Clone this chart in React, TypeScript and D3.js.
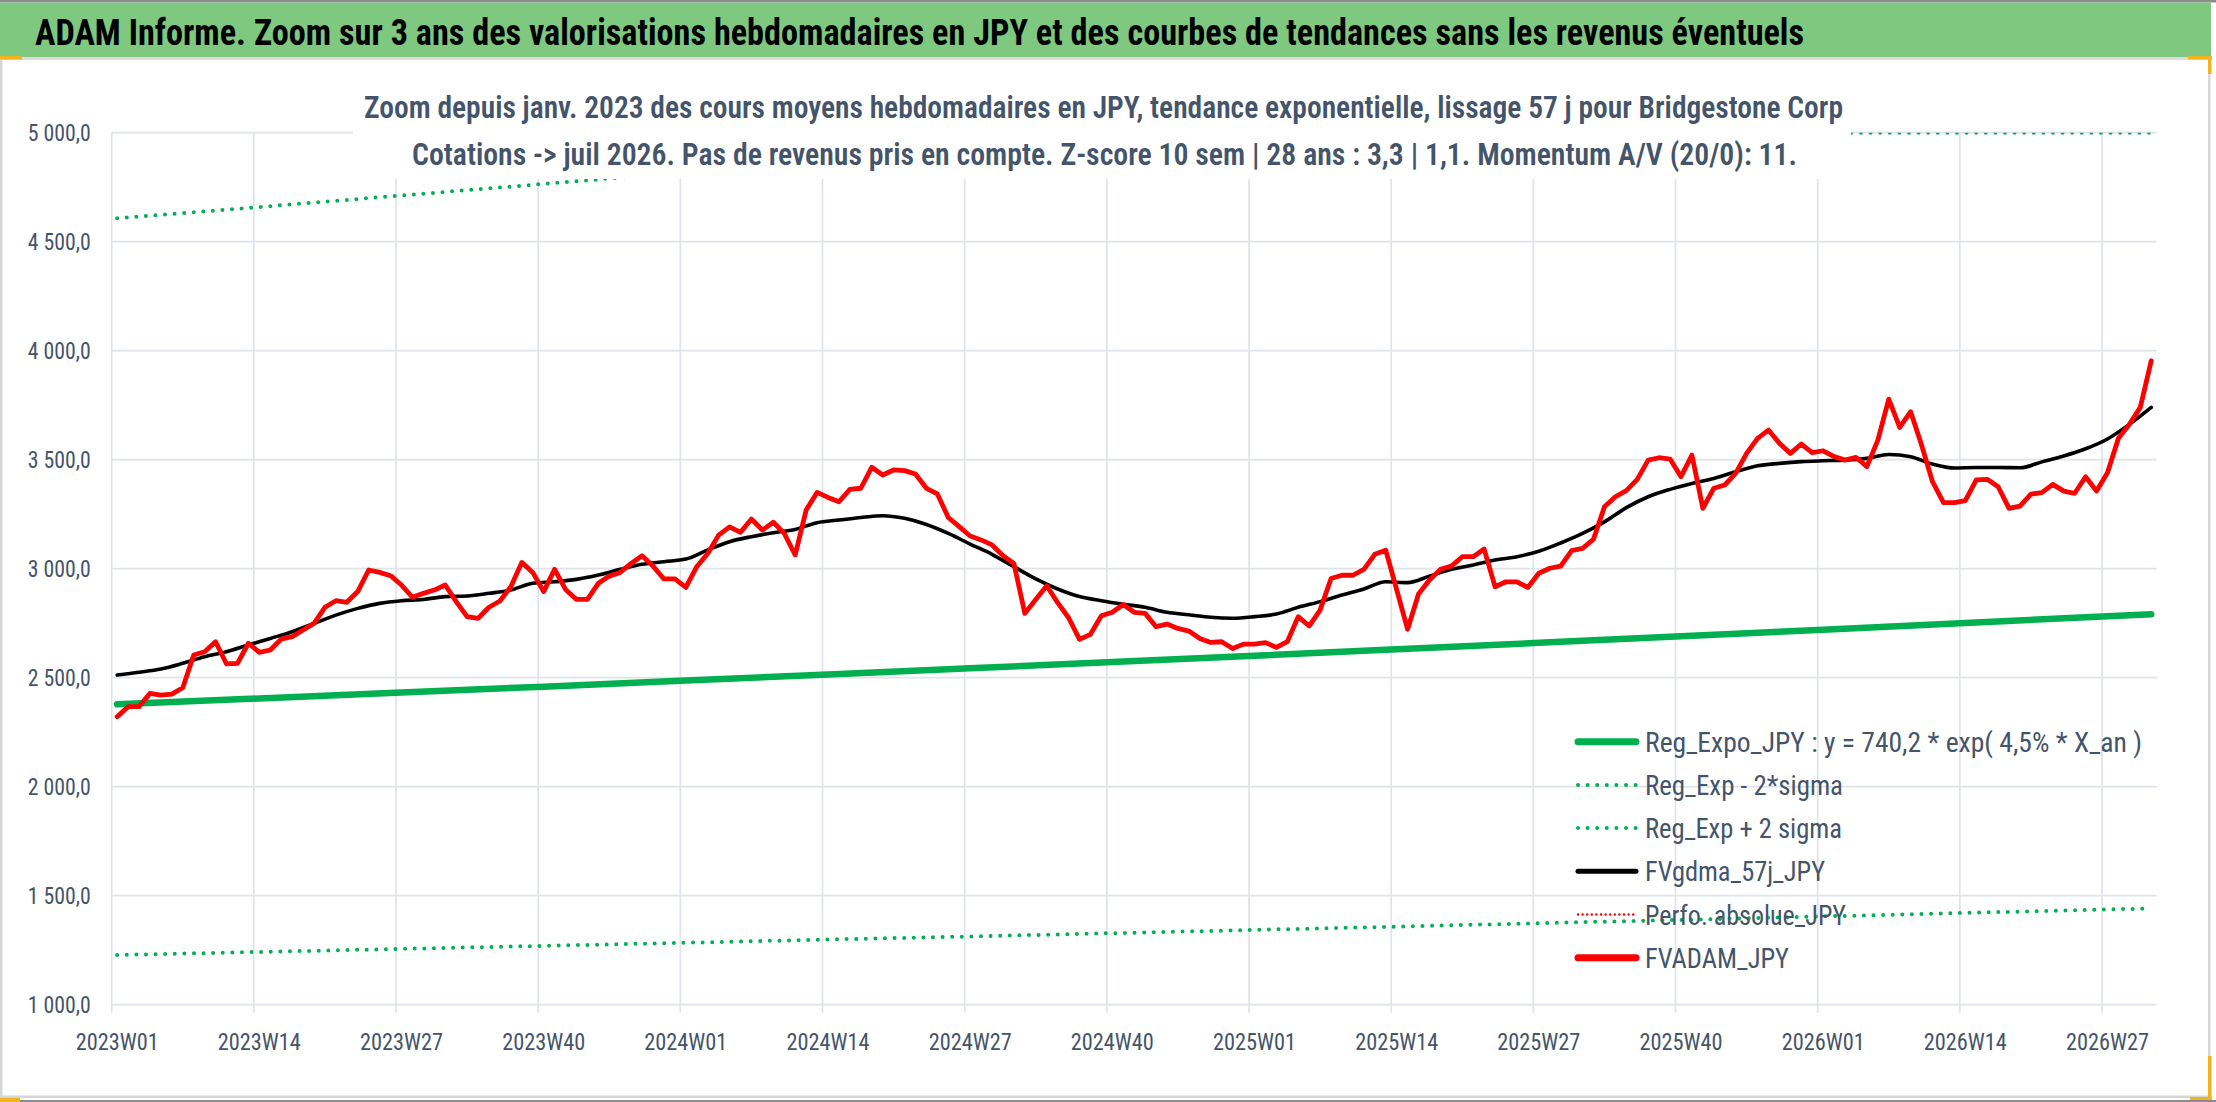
import { useEffect, useRef } from "react";
import * as d3 from "d3";

// ISO weeks shown in the zoom (2026 stops at W31)
const YEAR_WEEKS: [number, number][] = [[2023, 52], [2024, 52], [2025, 52], [2026, 31]];
const WEEKS = YEAR_WEEKS.flatMap(([yr, n]) =>
  d3.range(1, n + 1).map((w) => `${yr}W${String(w).padStart(2, "0")}`)
);

const TICK_LABELS = [
  "2023W01", "2023W14", "2023W27", "2023W40", "2024W01", "2024W14", "2024W27", "2024W40",
  "2025W01", "2025W14", "2025W27", "2025W40", "2026W01", "2026W14", "2026W27",
];
const Y_TICKS = [1000, 1500, 2000, 2500, 3000, 3500, 4000, 4500, 5000];

// FVADAM_JPY, one value per week
const FVADAM = [
  2321, 2367, 2367, 2428, 2420, 2425, 2454, 2604, 2619, 2665, 2563, 2566, 2658, 2616, 2627, 2677,
  2688, 2719, 2749, 2823, 2853, 2846, 2895, 2994, 2983, 2968, 2925, 2869, 2887, 2902, 2925, 2849,
  2780, 2772, 2823, 2852, 2917, 3029, 2983, 2895, 2997, 2905, 2859, 2859, 2933, 2966, 2983, 3024,
  3059, 3012, 2953, 2953, 2914, 3009, 3070, 3154, 3192, 3167, 3228, 3177, 3213, 3162, 3063, 3269,
  3350, 3327, 3307, 3364, 3369, 3465, 3430, 3453, 3450, 3434, 3369, 3343, 3235, 3193, 3150, 3132,
  3109, 3060, 3024, 2795, 2859, 2922, 2844, 2775, 2676, 2699, 2784, 2800, 2836, 2800, 2795, 2734,
  2746, 2726, 2714, 2680, 2662, 2665, 2634, 2654, 2654, 2661, 2639, 2665, 2780, 2737, 2810, 2955,
  2970, 2970, 2997, 3066, 3085, 2904, 2722, 2884, 2948, 2997, 3012, 3055, 3055, 3090, 2917, 2940,
  2940, 2914, 2979, 3002, 3012, 3083, 3093, 3135, 3284, 3330, 3358, 3410, 3498, 3509, 3503, 3422,
  3521, 3277, 3369, 3384, 3437, 3529, 3598, 3636, 3575, 3529, 3572, 3532, 3541, 3514, 3498, 3511,
  3468, 3590, 3778, 3648, 3720, 3567, 3399, 3303, 3303, 3312, 3407, 3410, 3376, 3277, 3287, 3342,
  3349, 3387, 3356, 3346, 3422, 3356, 3440, 3598, 3662, 3740, 3954,
];

// FVgdma_57j_JPY, one value every second week from 2023W01
const FVGDMA = [
  2512, 2525, 2540, 2566, 2596, 2619, 2650, 2680, 2711, 2749, 2787, 2818, 2841, 2853, 2859, 2872,
  2875, 2887, 2902, 2933, 2940, 2951, 2971, 2997, 3020, 3032, 3044, 3086, 3124, 3147, 3165, 3180,
  3211, 3223, 3235, 3243, 3231, 3203, 3162, 3113, 3066, 3009, 2953, 2907, 2872, 2853, 2837, 2823,
  2800, 2789, 2777, 2773, 2780, 2792, 2823, 2849, 2879, 2907, 2940, 2936, 2966, 2997, 3017, 3040,
  3055, 3080, 3118, 3162, 3215, 3280, 3330, 3364, 3391, 3414, 3445, 3472, 3483, 3491, 3495, 3498,
  3506, 3524, 3514, 3480, 3462, 3464, 3464, 3463, 3490, 3517, 3550, 3595, 3662, 3740,
];
const FVGDMA_WEEKS = WEEKS.filter((_, i) => i % 2 === 0);

// exponential trend and its 2-sigma band, read at the gridline weeks
const TREND_WEEKS = [...TICK_LABELS, "2026W31"];
const REG_EXPO = [2378, 2405, 2432, 2459, 2487, 2515, 2543, 2572, 2601, 2630, 2660, 2690, 2720, 2751, 2782, 2791];
const REG_LOW = [1228, 1242, 1256, 1270, 1284, 1299, 1313, 1328, 1343, 1358, 1374, 1389, 1405, 1421, 1437, 1441];
const REG_HIGH = [4607, 4659, 4712, 4765, 4819, 4873, 4928, 4984, 5000, 5000, 5000, 5000, 5000, 5000, 5000, 5000];

const TITLE =
  "ADAM Informe. Zoom sur 3 ans des valorisations hebdomadaires en JPY et des courbes de tendances sans les revenus éventuels";
const SUBTITLE_1 =
  "Zoom depuis janv. 2023 des cours moyens hebdomadaires en JPY, tendance exponentielle, lissage 57 j pour Bridgestone Corp";
const SUBTITLE_2 =
  "Cotations -> juil 2026. Pas de revenus pris en compte. Z-score 10 sem | 28 ans : 3,3 | 1,1. Momentum A/V (20/0): 11.";

const LEGEND = [
  { label: "Reg_Expo_JPY : y = 740,2 * exp( 4,5% *  X_an )", len: 497, color: "#00b050", width: 7, dash: "" },
  { label: "Reg_Exp - 2*sigma", len: 198, color: "#00b050", width: 4, dash: "0 9.6" },
  { label: "Reg_Exp + 2 sigma", len: 197, color: "#00b050", width: 4, dash: "0 9.6" },
  { label: "FVgdma_57j_JPY", len: 180, color: "#000000", width: 5, dash: "" },
  { label: "Perfo. absolue_JPY", len: 201, color: "#ff0000", width: 2.5, dash: "0 4.6" },
  { label: "FVADAM_JPY", len: 144, color: "#ff0000", width: 7, dash: "" },
];

const W = 2216;
const H = 1102;
const FONT = "'Liberation Sans Narrow', 'Roboto Condensed', 'Open Sans', sans-serif";
const TEXT = "#44546a";
const GRID = "#dfe3ea";

export default function App() {
  const svgRef = useRef<SVGSVGElement>(null);

  useEffect(() => {
    document.body.style.margin = "0";
    if (!svgRef.current) return;
    const svg = d3.select(svgRef.current);
    svg.selectAll("*").remove();

    const plot = { left: 111.7, right: 2156.7, top: 132.7, bottom: 1004.7 };

    const x = d3.scaleBand<string>().domain(WEEKS).range([plot.left, plot.right]).padding(0);
    const cx = (w: string) => (x(w) ?? 0) + x.bandwidth() / 2;
    const y = d3.scaleLinear().domain([1000, 5000]).range([plot.bottom, plot.top]);
    const fmt = d3.formatLocale({ decimal: ",", thousands: " ", grouping: [3], currency: ["", ""] }).format(",.1f");

    svg.append("rect").attr("width", W).attr("height", H).attr("fill", "#ffffff");

    // Grid
    svg.append("g").selectAll("line").data(Y_TICKS).enter().append("line")
      .attr("x1", plot.left).attr("x2", plot.right)
      .attr("y1", (d) => y(d)).attr("y2", (d) => y(d))
      .attr("stroke", GRID).attr("stroke-width", 1.7);

    svg.append("g").selectAll("line").data(TICK_LABELS).enter().append("line")
      .attr("x1", (d) => x(d) ?? 0).attr("x2", (d) => x(d) ?? 0)
      .attr("y1", plot.top).attr("y2", plot.bottom + 8)
      .attr("stroke", GRID).attr("stroke-width", 1.7);

    // Series
    svg.append("clipPath").attr("id", "plot-clip").append("rect")
      .attr("x", plot.left - 10).attr("y", plot.top)
      .attr("width", plot.right - plot.left + 20).attr("height", plot.bottom - plot.top);
    const series = svg.append("g").attr("clip-path", "url(#plot-clip)");

    const trendLine = d3.line<number>()
      .x((_, i) => cx(TREND_WEEKS[i]))
      .y((d) => y(Math.min(d, 5000)));

    series.append("path").datum(REG_EXPO)
      .attr("fill", "none").attr("stroke", "#00b050").attr("stroke-width", 6.5)
      .attr("stroke-linecap", "round").attr("d", trendLine);

    [REG_LOW, REG_HIGH].forEach((band) => {
      series.append("path").datum(band)
        .attr("fill", "none").attr("stroke", "#00b050").attr("stroke-width", 4)
        .attr("stroke-dasharray", "0 9.6").attr("stroke-linecap", "round").attr("d", trendLine);
    });

    series.append("path").datum(FVGDMA)
      .attr("fill", "none").attr("stroke", "#000000").attr("stroke-width", 3.6)
      .attr("stroke-linecap", "round").attr("stroke-linejoin", "round")
      .attr("d", d3.line<number>().x((_, i) => cx(FVGDMA_WEEKS[i])).y((d) => y(d)).curve(d3.curveMonotoneX));

    series.append("path").datum(FVADAM)
      .attr("fill", "none").attr("stroke", "#ff0000").attr("stroke-width", 4.8)
      .attr("stroke-linecap", "round").attr("stroke-linejoin", "round")
      .attr("d", d3.line<number>().x((_, i) => cx(WEEKS[i])).y((d) => y(d)));

    // Axis labels
    svg.append("g").selectAll("text").data(Y_TICKS).enter().append("text")
      .attr("x", 90.7).attr("y", (d) => y(d)).attr("dy", "0.36em")
      .attr("text-anchor", "end").attr("font-family", FONT).attr("font-size", 23.5)
      .attr("fill", TEXT).attr("textLength", 63).attr("lengthAdjust", "spacingAndGlyphs")
      .text((d) => fmt(d));

    svg.append("g").selectAll("text").data(TICK_LABELS).enter().append("text")
      .attr("x", (d) => cx(d)).attr("y", 1050)
      .attr("text-anchor", "middle").attr("font-family", FONT).attr("font-size", 24)
      .attr("fill", TEXT).attr("textLength", 83).attr("lengthAdjust", "spacingAndGlyphs")
      .text((d) => d);

    // Subtitle box over the plot
    svg.append("rect").attr("x", 353).attr("y", 82).attr("width", 1498).attr("height", 97).attr("fill", "#ffffff");
    [
      { t: SUBTITLE_1, x: 364, y: 118, len: 1479 },
      { t: SUBTITLE_2, x: 412, y: 164.5, len: 1385 },
    ].forEach((s) => {
      svg.append("text").attr("x", s.x).attr("y", s.y)
        .attr("font-family", FONT).attr("font-size", 31).attr("font-weight", 600)
        .attr("fill", TEXT).attr("textLength", s.len).attr("lengthAdjust", "spacingAndGlyphs")
        .text(s.t);
    });

    // Legend
    const legend = svg.append("g");
    LEGEND.forEach((d, k) => {
      const ly = 741.7 + 43.2 * k;
      legend.append("line")
        .attr("x1", 1578).attr("x2", 1636).attr("y1", ly).attr("y2", ly)
        .attr("stroke", d.color).attr("stroke-width", d.width)
        .attr("stroke-dasharray", d.dash || null).attr("stroke-linecap", "round");
      legend.append("text")
        .attr("x", 1645).attr("y", ly + 10)
        .attr("font-family", FONT).attr("font-size", 28.5).attr("fill", TEXT)
        .attr("textLength", d.len).attr("lengthAdjust", "spacingAndGlyphs")
        .text(d.label);
    });

    // Title banner and frame
    svg.append("rect").attr("x", 0).attr("y", 0).attr("width", W).attr("height", 2.5).attr("fill", "#8c8c8c");
    svg.append("rect").attr("x", 0).attr("y", 2.5).attr("width", 2211).attr("height", 54.5).attr("fill", "#7ec97f");
    svg.append("rect").attr("x", 0).attr("y", 57).attr("width", 2211).attr("height", 3).attr("fill", "#dcdcdc");
    svg.append("text").attr("x", 35).attr("y", 45)
      .attr("font-family", FONT).attr("font-size", 37.5).attr("font-weight", 700).attr("fill", "#000000")
      .attr("textLength", 1769).attr("lengthAdjust", "spacingAndGlyphs")
      .text(TITLE);

    svg.append("rect").attr("x", 0).attr("y", 60).attr("width", 2.5).attr("height", 1040).attr("fill", "#d6d6d6");
    svg.append("rect").attr("x", 2208).attr("y", 60).attr("width", 2.5).attr("height", 1040).attr("fill", "#d6d6d6");
    svg.append("rect").attr("x", 0).attr("y", 1095.5).attr("width", 2211).attr("height", 2.5).attr("fill", "#d6d6d6");
    svg.append("rect").attr("x", 0).attr("y", 1100).attr("width", W).attr("height", 2).attr("fill", "#8c8c8c");

    // selection handles
    const handle = "#f2b320";
    [
      [0, 56, 22, 3.5], [2188, 56, 24, 3.5], [2208, 56, 3.5, 18],
      [2208, 1056, 3.5, 44], [2190, 1097, 22, 3], [0, 1098, 20, 4],
    ].forEach(([hx, hy, hw, hh]) => {
      svg.append("rect").attr("x", hx).attr("y", hy).attr("width", hw).attr("height", hh).attr("fill", handle);
    });
  }, []);

  return (
    <svg
      ref={svgRef}
      width={W}
      height={H}
      style={{ display: "block" }}
      role="img"
      aria-label="Valorisations hebdomadaires en JPY de Bridgestone Corp avec tendance exponentielle"
    />
  );
}
